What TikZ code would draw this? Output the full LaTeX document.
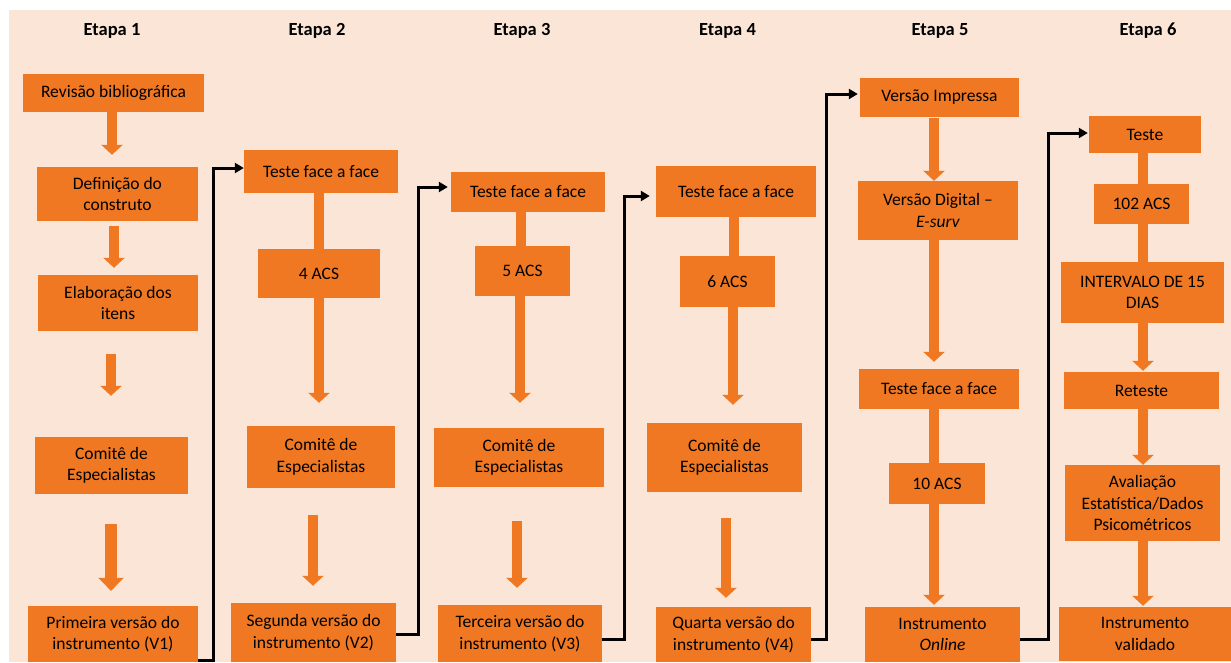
\documentclass[tikz,border=0pt]{standalone}
\usepackage{fontspec}
\setmainfont{Carlito}
\usetikzlibrary{arrows.meta}
\definecolor{bgpeach}{HTML}{FBE5D6}
\definecolor{orng}{HTML}{F07823}
\newcommand\mybox[6]{\node[obox, minimum width={(#4-#2)*1pt}, minimum height={(#5-#3)*1pt}] (#1) at ({(#2+#4)/2},{(#3+#5)/2}) {#6};}
\begin{document}
\begin{tikzpicture}[x=1pt,y=-1pt,
  obox/.style={fill=orng, inner sep=0pt, align=center, font=\fontsize{17.5}{21.5}\selectfont, text=black},
  hdr/.style={font=\fontsize{18.5}{22}\selectfont\bfseries, inner sep=0pt},
  oline/.style={draw=orng, line width=10pt},
  oarr/.style={draw=orng, line width=10pt, -{Triangle[length=10pt 0 0, width=21pt 0 0]}},
  oarrbig/.style={draw=orng, line width=12pt, -{Triangle[length=13pt 0 0, width=25pt 0 0]}},
  blk/.style={draw=black, line width=3pt, -{Triangle[length=9pt 0 0, width=10pt 0 0]}}]

\useasboundingbox (0,0) rectangle (1231,662);
\fill[bgpeach] (9,10) rectangle (1231,662);

% headers
\node[hdr] (h1) at (112,31) {Etapa 1};
\node[hdr] (h2) at (317,31) {Etapa 2};
\node[hdr] (h3) at (522,31) {Etapa 3};
\node[hdr] (h4) at (727.5,31) {Etapa 4};
\node[hdr] (h5) at (940,31) {Etapa 5};
\node[hdr] (h6) at (1148,31) {Etapa 6};

% Etapa 1
\mybox{rev}{23}{74}{204}{112}{Revisão bibliográfica}
\mybox{def}{37}{167}{198}{221}{Definição do\\construto}
\mybox{ela}{38}{275}{198}{331}{Elaboração dos\\itens}
\mybox{com1}{35}{437}{188}{494}{Comitê de\\Especialistas}
\mybox{v1}{28}{606}{198}{662}{Primeira versão do\\instrumento (V1)}

% Etapa 2
\mybox{t2}{244}{150}{398}{193}{Teste face a face}
\mybox{a4}{258}{249}{380}{298}{4 ACS}
\mybox{com2}{247}{426}{395}{488}{Comitê de\\Especialistas}
\mybox{v2}{231}{603}{396}{662}{Segunda versão do\\instrumento (V2)}

% Etapa 3
\mybox{t3}{451}{172}{605}{212}{Teste face a face}
\mybox{a5}{475}{246}{570}{296}{5 ACS}
\mybox{com3}{434}{428}{604}{487}{Comitê de\\Especialistas}
\mybox{v3}{438}{605}{602}{662}{Terceira versão do\\instrumento (V3)}

% Etapa 4
\mybox{t4}{656}{166}{816}{217}{Teste face a face}
\mybox{a6}{680}{256}{775}{307}{6 ACS}
\mybox{com4}{647}{423}{802}{492}{Comitê de\\Especialistas}
\mybox{v4}{656}{607}{811}{662}{Quarta versão do\\instrumento (V4)}

% Etapa 5
\mybox{imp}{860}{78}{1019}{117}{Versão Impressa}
\mybox{dig}{858}{181}{1018}{240}{Versão Digital –\\\textit{E-surv}}
\mybox{t5}{859}{369}{1019}{409}{Teste face a face}
\mybox{a10}{889}{463}{985}{504}{10 ACS}
\mybox{onl}{865}{607}{1020}{662}{Instrumento\\\textit{Online}}

% Etapa 6
\mybox{t6}{1089}{116}{1201}{153}{Teste}
\mybox{a102}{1094}{184}{1189}{224}{102 ACS}
\mybox{int}{1061}{262}{1224}{323}{INTERVALO DE 15\\DIAS}
\mybox{ret}{1064}{372}{1219}{409}{Reteste}
\mybox{ava}{1065}{465}{1220}{541}{Avaliação\\Estatística/Dados\\Psicométricos}
\mybox{val}{1059}{607}{1231}{661}{Instrumento\\validado}

% orange arrows, Etapa 1
\draw[oarr, shorten >=12pt] ([xshift=-1.5pt]rev.south) -- ([xshift=-1.5pt]rev.south |- def.north);
\draw[oarr, shorten <=5pt, shorten >=7pt] ([xshift=-3.5pt]def.south) -- ([xshift=-3.5pt]def.south |- ela.north);
\draw[oarr, shorten <=23pt, shorten >=41pt] ([xshift=-7pt]ela.south) -- ([xshift=-7pt]ela.south |- com1.north);
\draw[oarrbig, shorten <=30pt, shorten >=15pt] ([xshift=-0.5pt]com1.south) -- ([xshift=-0.5pt]com1.south |- v1.north);

% Etapa 2
\draw[oline] ([xshift=-2pt]t2.south) -- ([xshift=-2pt]t2.south |- a4.north);
\draw[oarr, shorten >=23pt] (a4.south) -- (a4.south |- com2.north);
\draw[oarr, shorten <=27pt, shorten >=17pt] ([xshift=-8pt]com2.south) -- ([xshift=-8pt]com2.south |- v2.north);

% Etapa 3
\draw[oline] ([xshift=-7pt]t3.south) -- ([xshift=-7pt]t3.south |- a5.north);
\draw[oarr, shorten >=25pt] ([xshift=-2.5pt]a5.south) -- ([xshift=-2.5pt]a5.south |- com3.north);
\draw[oarr, shorten <=34pt, shorten >=17pt] ([xshift=-2pt]com3.south) -- ([xshift=-2pt]com3.south |- v3.north);

% Etapa 4
\draw[oline] ([xshift=-2pt]t4.south) -- ([xshift=-2pt]t4.south |- a6.north);
\draw[oarr, shorten >=18pt] ([xshift=5.5pt]a6.south) -- ([xshift=5.5pt]a6.south |- com4.north);
\draw[oarr, shorten <=26pt, shorten >=9pt] ([xshift=1.5pt]com4.south) -- ([xshift=1.5pt]com4.south |- v4.north);

% Etapa 5
\draw[oarr, shorten <=1pt] ([xshift=-5.5pt]imp.south) -- ([xshift=-5.5pt]imp.south |- dig.north);
\draw[oarr, shorten >=7pt] ([xshift=-4pt]dig.south) -- ([xshift=-4pt]dig.south |- t5.north);
\draw[oline] ([xshift=-5pt]t5.south) -- ([xshift=-5pt]t5.south |- a10.north);
\draw[oarr, shorten >=2pt] ([xshift=-3pt]a10.south) -- ([xshift=-3pt]a10.south |- onl.north);

% Etapa 6
\draw[oline] ([xshift=-2pt]t6.south) -- ([xshift=-2pt]t6.south |- a102.north);
\draw[oline] ([xshift=1.5pt]a102.south) -- ([xshift=1.5pt]a102.south |- int.north);
\draw[oarr, shorten >=1pt] ([xshift=0.5pt]int.south) -- ([xshift=0.5pt]int.south |- ret.north);
\draw[oarr] ([xshift=1.5pt]ret.south) -- ([xshift=1.5pt]ret.south |- ava.north);
\draw[oarr, shorten >=1pt] ([xshift=0.5pt]ava.south) -- ([xshift=0.5pt]ava.south |- val.north);

% black connectors between stages
\coordinate (k1) at (213,168);
\coordinate (k2) at (418,187);
\coordinate (k3) at (624,196);
\coordinate (k4) at (826,94);
\coordinate (k5) at (1048,133);
\draw[blk] ([yshift=-26pt]v1.east) -| (k1) -- (k1 -| t2.west);
\draw[blk, shorten >=3pt] ([yshift=-1.5pt]v2.east) -| (k2) -- (k2 -| t3.west);
\draw[blk, shorten >=6pt] ([yshift=-5.5pt]v3.east) -| (k3) -- (k3 -| t4.west);
\draw[blk, shorten >=2pt] ([yshift=-4.5pt]v4.east) -| (k4) -- (k4 -| imp.west);
\draw[blk, shorten >=1pt] ([yshift=-4.5pt]onl.east) -| (k5) -- (k5 -| t6.west);
\end{tikzpicture}
\end{document}
